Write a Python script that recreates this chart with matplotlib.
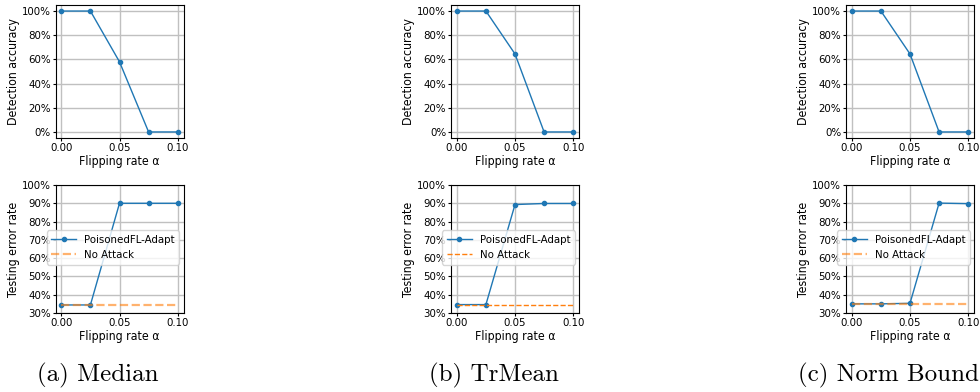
import matplotlib
matplotlib.use("Agg")
import matplotlib.pyplot as plt
from matplotlib.ticker import PercentFormatter, FormatStrFormatter
from matplotlib import font_manager

plt.rcParams['font.size'] = 8.8
plt.rcParams['font.stretch'] = 'condensed'
plt.rcParams['xtick.labelsize'] = 8.2
plt.rcParams['ytick.labelsize'] = 8.2
plt.rcParams['xtick.major.size'] = 2
plt.rcParams['ytick.major.size'] = 2
plt.rcParams['xtick.major.pad'] = 1.5
plt.rcParams['ytick.major.pad'] = 1.5

print(font_manager.findfont(font_manager.FontProperties(family='DejaVu Sans', stretch='condensed')))

# flipping rates on the x axis
rates = [0.0, 0.025, 0.05, 0.075, 0.1]

captions = ["(a) Median", "(b) TrMean", "(c) Norm Bound"]

# detection accuracy (%) per aggregator
det_median = [100, 100, 58, 0, 0]
det_trmean = [100, 100, 64.5, 0, 0]
det_normbound = [100, 100, 64.5, 0, 0]

# testing error rate (%) under PoisonedFL-Adapt
err_median = [34.4, 34.4, 90.0, 90.0, 90.0]
err_trmean = [34.6, 34.6, 89.3, 89.9, 89.9]
err_normbound = [35.0, 35.0, 35.3, 90.1, 89.8]

# testing error rate (%) with no attack
clean_median = 34.4
clean_trmean = 34.6
clean_normbound = 35.0

det_all = [det_median, det_trmean, det_normbound]
err_all = [err_median, err_trmean, err_normbound]
clean_all = [clean_median, clean_trmean, clean_normbound]

W, H = 980, 392
fig = plt.figure(figsize=(W / 100, H / 100), dpi=100)

lefts = [55.5, 451, 846]
ax_w = 128
cap_x = [98, 494, 888]
clean_style = [dict(lw=1.6, alpha=0.6), dict(lw=1.0, alpha=1.0), dict(lw=1.6, alpha=0.6)]


def px_axes(left, top, w, h):
    return fig.add_axes([left / W, 1 - (top + h) / H, w / W, h / H])


for i in range(3):
    # top: detection accuracy
    ax = px_axes(lefts[i], 5, ax_w, 133)
    ax.plot(rates, det_all[i], color='tab:blue', marker='o', markersize=3, lw=1)
    ax.set_xticks([0, 0.05, 0.1])
    ax.set_yticks([0, 20, 40, 60, 80, 100])
    ax.xaxis.set_major_formatter(FormatStrFormatter('%.2f'))
    ax.yaxis.set_major_formatter(PercentFormatter(100, decimals=0))
    ax.grid(True, color='#c0c0c0', lw=1)
    ax.set_axisbelow(True)
    ax.set_xlabel("Flipping rate α", labelpad=1.5)
    ax.set_ylabel("Detection accuracy", labelpad=1.5)

    # bottom: testing error rate
    ax2 = px_axes(lefts[i], 185, ax_w, 128)
    ax2.plot(rates, err_all[i], color='tab:blue', marker='o', markersize=3, lw=1,
             label='PoisonedFL-Adapt')
    ax2.plot(rates, [clean_all[i]] * len(rates), color='tab:orange', ls='--',
             label='No Attack', **clean_style[i])
    ax2.set_ylim(30, 100)
    ax2.set_xticks([0, 0.05, 0.1])
    ax2.set_yticks(range(30, 101, 10))
    ax2.xaxis.set_major_formatter(FormatStrFormatter('%.2f'))
    ax2.yaxis.set_major_formatter(PercentFormatter(100, decimals=0))
    ax2.grid(True, color='#c0c0c0', lw=1)
    ax2.set_axisbelow(True)
    ax2.set_xlabel("Flipping rate α", labelpad=1.5)
    ax2.set_ylabel("Testing error rate", labelpad=1.5)
    ax2.legend(loc='upper left', bbox_to_anchor=(-0.07, 0.645), fontsize=8.2,
               borderaxespad=0, borderpad=0.4, labelspacing=0.45, handlelength=2.2,
               handletextpad=0.7)

    fig.text(cap_x[i] / W, 1 - 375 / H, captions[i], ha='center', va='center',
             fontsize=18, family='cmr10', stretch='normal')

fig.savefig("out.png", dpi=100)
